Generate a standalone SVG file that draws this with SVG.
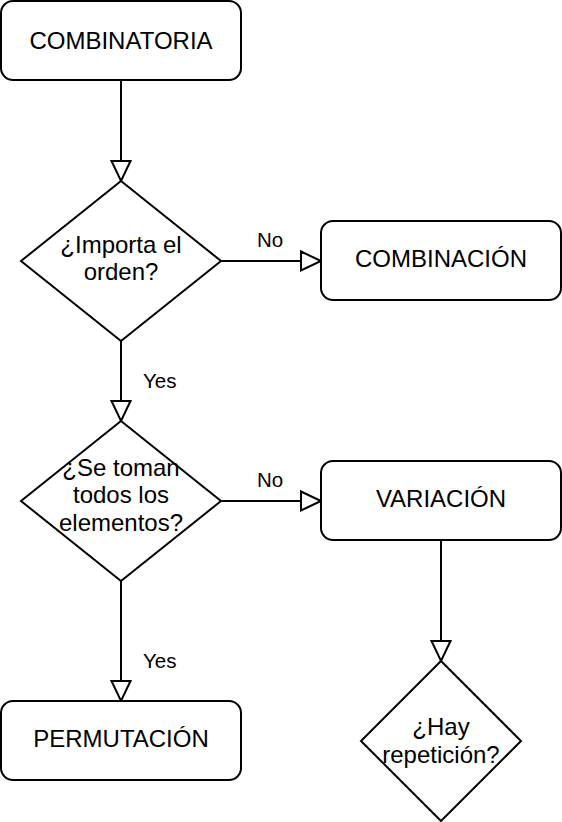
<svg xmlns="http://www.w3.org/2000/svg" width="562" height="822" viewBox="0 0 562 822">
<style>
.node{fill:#fff;stroke:#000;stroke-width:2}
.t{font-family:"Liberation Sans",Arial,sans-serif;font-size:24px;fill:#000;text-anchor:middle}
.lbl{font-family:"Liberation Sans",Arial,sans-serif;font-size:20.5px;fill:#000}
.edge{fill:none;stroke:#000;stroke-width:2}
</style>
<defs>
<marker id="arr" markerUnits="userSpaceOnUse" markerWidth="24" markerHeight="24" refX="21" refY="11" orient="auto">
<path d="M1,1.5 L21,11 L1,20.5 Z" fill="#fff" stroke="#000" stroke-width="2"/>
</marker>
</defs>
<rect width="562" height="822" fill="#fff"/>
<g id="connectors">
<line class="edge" x1="121" y1="81" x2="121" y2="181" marker-end="url(#arr)"/>
<line class="edge" x1="221" y1="261" x2="321" y2="261" marker-end="url(#arr)"/>
<line class="edge" x1="121" y1="341" x2="121" y2="421" marker-end="url(#arr)"/>
<line class="edge" x1="221" y1="501" x2="321" y2="501" marker-end="url(#arr)"/>
<line class="edge" x1="441" y1="541" x2="441" y2="661" marker-end="url(#arr)"/>
<line class="edge" x1="121" y1="581" x2="121" y2="701" marker-end="url(#arr)"/>
<text class="lbl" x="257" y="247">No</text>
<text class="lbl" x="143" y="388">Yes</text>
<text class="lbl" x="257" y="487">No</text>
<text class="lbl" x="143" y="668">Yes</text>
</g>
<g id="combinatoria">
<rect class="node" x="1" y="1" width="240" height="79" rx="12"/>
<text class="t" x="121" y="49">COMBINATORIA</text>
</g>
<g id="importa">
<polygon class="node" points="121,181 221,261 121,341 21,261"/>
<text class="t" x="121" y="253">¿Importa el</text>
<text class="t" x="121" y="280">orden?</text>
</g>
<g id="combinacion">
<rect class="node" x="321" y="221" width="240" height="79" rx="12"/>
<text class="t" x="441" y="267">COMBINACIÓN</text>
</g>
<g id="setoman">
<polygon class="node" points="121,421 221,501 121,581 21,501"/>
<text class="t" x="121" y="476">¿Se toman</text>
<text class="t" x="121" y="503">todos los</text>
<text class="t" x="121" y="530.5">elementos?</text>
</g>
<g id="variacion">
<rect class="node" x="321" y="461" width="240" height="79" rx="12"/>
<text class="t" x="441" y="507">VARIACIÓN</text>
</g>
<g id="permutacion">
<rect class="node" x="1" y="701" width="240" height="79" rx="12"/>
<text class="t" x="121" y="747">PERMUTACIÓN</text>
</g>
<g id="repeticion">
<polygon class="node" points="441,661 521,741 441,821 361,741"/>
<text class="t" x="441" y="735">¿Hay</text>
<text class="t" x="441" y="762.5">repetición?</text>
</g>
</svg>
